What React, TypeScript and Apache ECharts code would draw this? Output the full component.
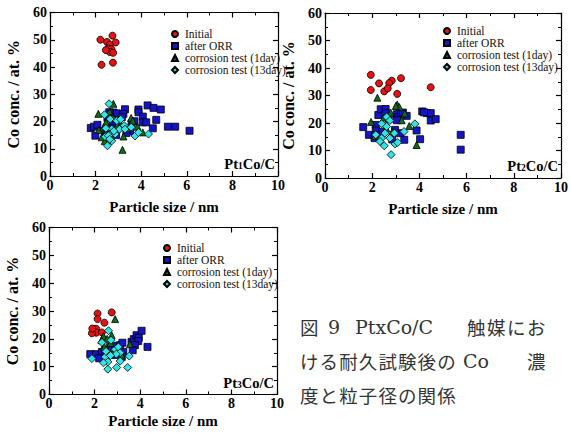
import React, { useEffect, useRef } from "react";
import * as echarts from "echarts";

// ---------- data ----------
const seriesNames = ["Initial", "after ORR", "corrosion test (1day)", "corrosion test (13day)"];
const panelTitles = ["1", "2", "3"];
const xTicks = [0, 2, 4, 6, 8, 10];
const yTicks = [0, 10, 20, 30, 40, 50, 60];

const p1Initial = [[2.21,50.0],[2.74,51.5],[2.50,49.2],[2.88,49.0],[2.62,48.2],[2.55,46.8],[2.70,46.5],[2.62,45.5],[2.77,45.2],[2.45,46.2],[2.26,40.8],[2.76,41.6]];
const p1Orr = [[1.79,17.6],[1.93,18.1],[2.08,18.8],[1.99,14.8],[2.52,21.3],[2.78,23.3],[2.93,23.0],[3.29,24.5],[3.22,22.8],[3.15,21.6],[3.88,24.4],[3.88,23.4],[4.07,21.8],[4.07,19.7],[4.22,19.7],[4.28,25.9],[4.54,25.0],[4.86,24.4],[4.66,20.6],[4.51,17.5],[5.17,18.1],[5.49,18.1],[6.12,16.6],[3.51,16.4],[3.58,19.3],[2.74,19.1],[2.66,17.5],[2.40,16.5],[3.05,18.0],[3.35,15.8],[2.90,15.0],[2.60,23.4],[3.70,20.1]];
const p1Day1 = [[2.12,22.8],[2.15,16.9],[2.46,19.7],[2.61,23.6],[2.78,26.5],[2.27,14.2],[3.22,14.5],[3.18,9.6],[3.56,21.3],[3.63,20.3],[3.84,18.1],[4.07,16.0],[2.46,16.0],[2.35,17.8],[2.66,21.5],[2.85,21.0],[2.55,13.2],[2.95,18.5],[2.40,12.8],[3.40,17.5]];
const p1Day13 = [[2.59,26.5],[2.39,22.5],[2.64,20.9],[2.71,17.2],[2.42,14.4],[2.56,14.8],[2.52,11.1],[2.71,12.9],[2.86,15.4],[2.93,20.3],[3.10,20.8],[3.05,17.2],[3.25,18.5],[3.29,17.2],[3.56,17.9],[3.73,14.7],[3.88,16.0],[4.32,15.4],[2.45,17.5],[2.80,16.5],[2.62,13.5]];

const p2Initial = [[1.94,37.5],[2.29,34.4],[2.83,35.4],[2.72,34.5],[3.22,36.3],[1.94,32.0],[2.51,31.5],[2.66,32.6],[3.06,30.6],[4.48,33.0]];
const p2Orr = [[1.62,18.5],[1.86,15.7],[2.15,19.3],[2.15,17.3],[2.15,15.5],[2.26,22.9],[2.36,25.0],[2.57,25.1],[2.57,23.6],[3.04,23.2],[3.11,22.1],[3.22,23.6],[3.46,22.6],[3.18,16.3],[3.36,13.9],[2.97,17.5],[3.88,17.3],[4.03,14.1],[4.12,24.2],[4.31,23.6],[4.48,23.6],[4.48,20.9],[4.69,21.4],[5.75,15.7],[5.75,10.3],[2.70,21.5],[3.05,21.0],[2.45,16.8],[2.85,14.0],[3.30,23.8],[4.20,23.9],[2.10,14.5]];
const p2Day1 = [[2.22,29.2],[3.06,26.7],[3.15,25.8],[2.78,23.8],[1.95,20.4],[3.57,18.9],[3.88,12.0],[3.25,21.0],[2.50,22.0],[2.12,15.3],[3.00,26.2],[2.60,18.0],[2.85,16.8],[3.38,23.5]];
const p2Day13 = [[2.61,22.2],[2.40,19.7],[2.75,20.9],[2.15,15.7],[2.40,14.5],[2.54,16.3],[2.61,18.7],[2.51,11.7],[2.33,13.3],[2.75,14.5],[2.94,16.3],[2.97,12.4],[3.08,12.9],[3.35,16.9],[3.81,19.7],[2.80,8.5]];

const p3Initial = [[2.13,29.1],[2.13,27.1],[2.75,29.5],[2.43,25.8],[1.98,23.5],[2.07,23.6],[2.07,22.2],[1.88,22.0],[1.90,23.7],[2.32,22.3]];
const p3Orr = [[1.81,14.5],[2.06,14.5],[2.32,15.3],[2.68,17.1],[2.90,17.5],[3.12,17.7],[3.22,18.6],[3.62,18.9],[3.72,19.9],[3.84,21.3],[3.94,20.4],[4.06,22.9],[3.91,19.2],[3.77,17.7],[3.67,15.9],[4.32,17.1],[3.26,15.3],[3.19,13.5],[2.20,13.0],[2.55,14.5],[2.85,14.2],[3.00,16.0],[2.45,16.0]];
const p3Day1 = [[2.90,27.1],[2.39,21.0],[2.75,21.3],[2.43,17.1],[3.55,18.1],[3.19,14.1],[2.70,18.5],[2.30,19.5],[2.55,20.0],[2.85,15.5]];
const p3Day13 = [[1.88,12.9],[2.32,18.7],[2.61,22.9],[2.72,19.5],[2.90,16.2],[3.04,17.1],[3.12,15.0],[2.95,14.5],[2.46,13.5],[2.58,11.7],[2.39,11.4],[2.58,9.1],[2.97,9.7],[3.45,9.7],[3.52,13.8],[3.12,12.0],[2.70,14.0],[2.50,15.5]];

const panels = [
  [p1Initial, p1Orr, p1Day1, p1Day13],
  [p2Initial, p2Orr, p2Day1, p2Day13],
  [p3Initial, p3Orr, p3Day1, p3Day13],
];

const captionLine1 = ["図", "9", "PtxCo/C", "触", "媒", "に", "お"];
const captionLine2 = ["け", "る", "耐", "久", "試", "験", "後", "の", "Co", "濃"];
const captionLine3 = ["度", "と", "粒", "子", "径", "の", "関", "係"];

// ---------- styles ----------
const SERIF = '"Liberation Serif", "Times New Roman", serif';
const CAP_LATIN = '"DejaVu Serif", serif';
const CJK = '"Noto Sans CJK JP", sans-serif';
const symbols = ["circle", "rect", "triangle", "diamond"];
const colors = ["#e81010", "#1414c8", "#0b6e14", "#2ee6e6"];
const sizes = [7, 7, 7, 8];

const grids = [
  { left: 50, top: 12.5, width: 228, height: 163.5 },
  { left: 325, top: 13, width: 236, height: 165 },
  { left: 49, top: 227.5, width: 228, height: 167 },
];
const xNameGaps = [23, 23, 19];
const legendPos = [
  { left: 166, top: 23 },
  { left: 438, top: 20 },
  { left: 158, top: 237 },
];
const titlePos = [
  { x: 275, y: 163 },
  { x: 558, y: 165 },
  { x: 274, y: 382 },
];

const lineStyle = { color: "#000", width: 1.2 };
const tickLabel = { color: "#000", fontFamily: SERIF, fontWeight: "bold" as const, fontSize: 14 };
const xNameStyle = { color: "#000", fontFamily: SERIF, fontWeight: "bold" as const, fontSize: 15 };
const yNameStyle = { color: "#000", fontFamily: SERIF, fontWeight: "bold" as const, fontSize: 16 };

function xAxis(gi: number, pos: "bottom" | "top") {
  const main = pos === "bottom";
  return {
    type: "value",
    gridIndex: gi,
    position: pos,
    min: xTicks[0],
    max: xTicks[xTicks.length - 1],
    interval: xTicks[1] - xTicks[0],
    axisLine: { show: true, onZero: false, lineStyle },
    axisTick: { show: true, inside: true, length: 5, lineStyle },
    minorTick: { show: true, splitNumber: 2, length: 3, lineStyle: { color: "#000", width: 1 } },
    splitLine: { show: false },
    axisLabel: main ? { ...tickLabel, margin: 2 } : { show: false },
    name: main ? "Particle size / nm" : "",
    nameLocation: "middle",
    nameGap: xNameGaps[gi],
    nameTextStyle: xNameStyle,
  };
}
function yAxis(gi: number, pos: "left" | "right") {
  const main = pos === "left";
  return {
    type: "value",
    gridIndex: gi,
    position: pos,
    min: yTicks[0],
    max: yTicks[yTicks.length - 1],
    interval: yTicks[1] - yTicks[0],
    axisLine: { show: true, onZero: false, lineStyle },
    axisTick: { show: true, inside: true, length: 5, lineStyle },
    minorTick: { show: true, splitNumber: 2, length: 3, lineStyle: { color: "#000", width: 1 } },
    splitLine: { show: false },
    axisLabel: main ? { ...tickLabel, margin: 3 } : { show: false },
    name: main ? "Co conc. / at. %" : "",
    nameLocation: "middle",
    nameRotate: 90,
    nameGap: 29,
    nameTextStyle: yNameStyle,
  };
}

export default function App() {
  const ref = useRef<HTMLDivElement>(null);
  useEffect(() => {
    if (!ref.current) return;
    const chart = echarts.init(ref.current, undefined, { renderer: "svg" });

    const xAxes: any[] = [];
    const yAxes: any[] = [];
    for (let g = 0; g < 3; g++) { xAxes.push(xAxis(g, "bottom")); yAxes.push(yAxis(g, "left")); }
    for (let g = 0; g < 3; g++) { xAxes.push(xAxis(g, "top")); yAxes.push(yAxis(g, "right")); }

    const series: any[] = [];
    panels.forEach((sets, g) => {
      sets.forEach((data, k) => {
        series.push({
          type: "scatter",
          name: seriesNames[k],
          xAxisIndex: g,
          yAxisIndex: g,
          symbol: symbols[k],
          symbolSize: sizes[k],
          itemStyle: { color: colors[k], borderColor: "#000", borderWidth: 0.8, opacity: 1 },
          data,
        });
      });
    });

    const legends = legendPos.map((p) => ({
      ...p,
      orient: "vertical",
      itemWidth: 6,
      itemHeight: 6,
      itemGap: 0,
      selectedMode: false,
      textStyle: { fontFamily: SERIF, fontSize: 11.5, color: "#111", lineHeight: 12, padding: [0, 0, 0, 2] },
      data: seriesNames.map((n, k) => ({ name: n, icon: symbols[k] })),
    }));

    const graphics: any[] = titlePos.map((p, i) => ({
      type: "text",
      x: p.x,
      y: p.y,
      style: {
        text: `{a|Pt}{s|${panelTitles[i]}}{a|Co/C}`,
        align: "right",
        verticalAlign: "middle",
        rich: {
          a: { fontFamily: SERIF, fontWeight: "bold", fontSize: 14.5, lineHeight: 16, fill: "#000", verticalAlign: "bottom" },
          s: { fontFamily: SERIF, fontWeight: "bold", fontSize: 9.5, lineHeight: 9, fill: "#000", verticalAlign: "bottom" },
        },
      },
    }));

    const cjkFont = `18.5px ${CJK}`;
    const latinFont = `19px ${CAP_LATIN}`;
    const isLatin = (t: string) => /^[A-Za-z0-9/]+$/.test(t);
    const pitch = 19.6;
    const line1X = [300, 328, 355, 467, 487, 507, 527];
    const add = (t: string, x: number, y: number) =>
      graphics.push({ type: "text", x, y, style: { text: t, font: isLatin(t) ? latinFont : cjkFont, fill: "#333", verticalAlign: "middle" } });
    captionLine1.forEach((t, i) => add(t, line1X[i], 327));
    captionLine2.forEach((t, i) => add(t, i < 8 ? 300 + pitch * i : i === 8 ? 463 : 527, 361));
    captionLine3.forEach((t, i) => add(t, 300 + pitch * i, 395));

    chart.setOption({
      animation: false,
      backgroundColor: "#fff",
      grid: grids.map((g) => ({ ...g, containLabel: false })),
      xAxis: xAxes,
      yAxis: yAxes,
      legend: legends,
      series,
      graphic: graphics,
    });
    return () => chart.dispose();
  }, []);
  return <div ref={ref} style={{ position: "fixed", left: 0, top: 0, width: 571, height: 434 }} />;
}
